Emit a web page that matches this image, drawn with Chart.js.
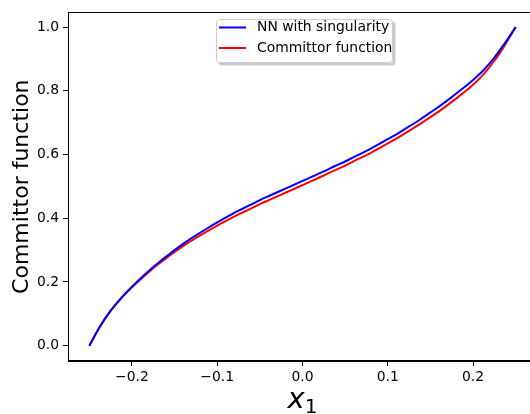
<!DOCTYPE html>
<html>
<head>
<meta charset="utf-8">
<script src="https://cdn.jsdelivr.net/npm/chart.js@4.4.1/dist/chart.umd.min.js"></script>
<style>
  html, body { margin: 0; padding: 0; background: #fff; overflow: hidden; }
  #wrap { width: 560px; height: 414px; }
</style>
</head>
<body>
<div id="wrap"><canvas id="chart" width="560" height="414"></canvas></div>
<script>
const xValues = [
  -0.25, -0.2375, -0.225, -0.2125, -0.2, -0.1875, -0.175, -0.1625, -0.15, -0.1375,
  -0.125, -0.1125, -0.1, -0.0875, -0.075, -0.0625, -0.05, -0.0375, -0.025, -0.0125,
  0, 0.0125, 0.025, 0.0375, 0.05, 0.0625, 0.075, 0.0875, 0.1, 0.1125,
  0.125, 0.1375, 0.15, 0.1625, 0.175, 0.1875, 0.2, 0.2125, 0.225, 0.2375, 0.25
]
const nnValues = [
  0.000, 0.060, 0.110, 0.150, 0.185, 0.217, 0.247, 0.274, 0.300, 0.324,
  0.346, 0.367, 0.387, 0.406, 0.424, 0.440, 0.457, 0.472, 0.487, 0.502,
  0.517, 0.532, 0.547, 0.563, 0.578, 0.595, 0.611, 0.629, 0.648, 0.667,
  0.688, 0.709, 0.732, 0.755, 0.780, 0.806, 0.834, 0.865, 0.904, 0.950, 1.000
]
const committorValues = [
  0.000, 0.060, 0.109, 0.149, 0.183, 0.214, 0.243, 0.269, 0.294, 0.317,
  0.338, 0.358, 0.377, 0.395, 0.412, 0.428, 0.444, 0.459, 0.474, 0.489,
  0.504, 0.519, 0.534, 0.550, 0.565, 0.582, 0.598, 0.616, 0.635, 0.654,
  0.674, 0.695, 0.717, 0.740, 0.765, 0.791, 0.819, 0.852, 0.894, 0.944, 1.000
]
const seriesLabels = ["NN with singularity", "Committor function"]
const seriesColors = ["#0000ff", "#ff0000"]
const xTicks = [-0.2, -0.1, 0, 0.1, 0.2]
const yTicks = [0, 0.2, 0.4, 0.6, 0.8, 1.0]
const xTitle = ["x", "1"]
const yTitle = "Committor function"

const FONT = '"DejaVu Sans", sans-serif'

const fmt = v => (v < 0 ? "\u2212" : "") + Math.abs(v).toFixed(1)
const toPoints = ys => xValues.map((x, i) => ({ x, y: ys[i] }))

// frame, legend box and the x label with its subscript
const extras = {
  id: "extras",
  afterDraw(chart) {
    const { ctx, chartArea: a } = chart
    ctx.save()
    ctx.strokeStyle = "#000"
    ctx.lineWidth = 1
    ctx.strokeRect(Math.round(a.left) + 0.5, Math.round(a.top) + 0.5,
      Math.round(a.right - a.left), Math.round(a.bottom - a.top))

    // legend
    const bx = 216, by = 19, bw = 177, bh = 44
    ctx.fillStyle = "rgba(0,0,0,0.2)"
    ctx.beginPath(); ctx.roundRect(bx + 2.5, by + 2.5, bw, bh, 3); ctx.fill()
    ctx.fillStyle = "#fff"
    ctx.beginPath(); ctx.roundRect(bx, by, bw, bh, 3); ctx.fill()
    ctx.strokeStyle = "#cccccc"
    ctx.beginPath(); ctx.roundRect(bx + 0.5, by + 0.5, bw - 1, bh - 1, 3); ctx.stroke()
    ctx.font = "13.9px " + FONT
    ctx.textBaseline = "middle"
    chart.data.datasets.forEach((ds, i) => {
      const ly = 27.5 + i * 20.5
      ctx.strokeStyle = ds.borderColor
      ctx.lineWidth = 2
      ctx.beginPath(); ctx.moveTo(219, ly); ctx.lineTo(246, ly); ctx.stroke()
      ctx.fillStyle = "#000"
      ctx.fillText(ds.label, 257, ly)
    })

    // x title
    const cx = chart.scales.x.getPixelForValue(0)
    ctx.fillStyle = "#000"
    ctx.textBaseline = "alphabetic"
    ctx.font = "italic 29px " + FONT
    const w1 = ctx.measureText(xTitle[0]).width
    ctx.font = "20px " + FONT
    const w2 = ctx.measureText(xTitle[1]).width
    const x0 = cx - (w1 + w2) / 2
    ctx.font = "italic 29px " + FONT
    ctx.fillText(xTitle[0], x0, 408)
    ctx.font = "20px " + FONT
    ctx.fillText(xTitle[1], x0 + w1, 413)
    ctx.restore()
  }
}

new Chart(document.getElementById("chart"), {
  type: "line",
  data: {
    datasets: [
      { label: seriesLabels[0], data: toPoints(nnValues), borderColor: seriesColors[0],
        borderWidth: 2, pointRadius: 0, cubicInterpolationMode: "monotone", fill: false },
      { label: seriesLabels[1], data: toPoints(committorValues), borderColor: seriesColors[1],
        borderWidth: 2, pointRadius: 0, cubicInterpolationMode: "monotone", fill: false }
    ]
  },
  options: {
    responsive: false,
    animation: false,
    layout: { padding: { left: 0, top: 11, right: 23, bottom: 0 } },
    plugins: {
      legend: { display: false },
      tooltip: { enabled: false }
    },
    scales: {
      x: {
        type: "linear",
        min: -0.275,
        max: 0.275,
        afterBuildTicks: s => { s.ticks = xTicks.map(v => ({ value: v })) },
        afterFit: s => { s.height = 53 },
        grid: { drawOnChartArea: false, tickLength: 5, tickColor: "#000", tickWidth: 1 },
        border: { color: "#000", width: 1 },
        ticks: {
          color: "#000", padding: 3, maxRotation: 0, autoSkip: false,
          font: { family: FONT, size: 13.9 },
          callback: v => fmt(v)
        }
      },
      y: {
        type: "linear",
        min: -0.048,
        max: 1.046,
        afterBuildTicks: s => { s.ticks = yTicks.map(v => ({ value: v })) },
        afterFit: s => { s.width = 68 },
        grid: { drawOnChartArea: false, tickLength: 5, tickColor: "#000", tickWidth: 1 },
        border: { color: "#000", width: 1 },
        ticks: {
          color: "#000", padding: 4, autoSkip: false,
          font: { family: FONT, size: 13.9 },
          callback: v => fmt(v)
        },
        title: {
          display: true, text: yTitle, color: "#000",
          font: { family: FONT, size: 22 },
          padding: { top: 9, bottom: 0 }
        }
      }
    }
  },
  plugins: [extras]
})
</script>
</body>
</html>
